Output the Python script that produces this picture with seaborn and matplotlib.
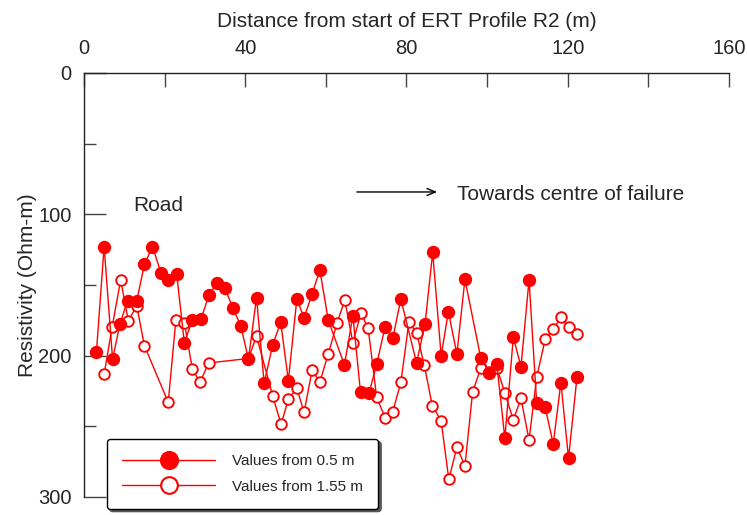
import matplotlib
matplotlib.use("Agg")
import matplotlib.pyplot as plt
from matplotlib.lines import Line2D
from matplotlib.ticker import FixedLocator
import seaborn as sns
import pandas as pd

# ---- data ----
dist_05 = [3.1, 5.0, 7.1, 8.9, 10.8, 13.1, 15.0, 17.0, 19.1, 20.9, 23.0, 24.9, 26.9,
           29.0, 31.0, 32.9, 35.0, 36.9, 38.9, 40.8, 42.8, 44.7, 46.8, 48.8, 50.7,
           52.8, 54.6, 56.6, 58.5, 60.6, 64.6, 66.7, 68.6, 70.7, 72.6, 74.7, 76.6,
           78.6, 82.5, 84.6, 86.5, 88.6, 90.4, 92.5, 94.5, 98.4, 100.5, 102.4, 104.4,
           106.5, 108.4, 110.4, 112.3, 114.4, 116.4, 118.3, 120.2, 122.3]
res_05 = [197.2, 122.9, 202.6, 177.8, 161.1, 161.1, 135.4, 122.9, 141.3, 146.5, 142.4,
          190.8, 174.8, 174.3, 157.1, 148.8, 152.4, 166.1, 179.0, 202.4, 159.0, 219.6,
          192.5, 176.4, 217.7, 160.1, 173.1, 156.4, 139.4, 174.8, 206.6, 171.9, 225.9,
          226.6, 206.1, 179.5, 187.7, 160.1, 205.0, 177.8, 126.9, 200.0, 168.9, 198.8,
          146.0, 201.4, 212.0, 205.9, 258.5, 187.0, 207.8, 146.5, 233.7, 236.6, 262.5,
          219.1, 272.6, 215.0]

dist_155 = [5.0, 7.0, 9.1, 11.0, 13.1, 15.0, 20.9, 22.8, 24.9, 26.9, 28.8, 30.9, 40.8,
            42.8, 46.8, 48.9, 50.7, 52.8, 54.6, 56.6, 58.5, 60.6, 62.8, 64.7, 66.7,
            68.7, 70.5, 72.6, 74.7, 76.6, 78.6, 80.6, 82.5, 84.4, 86.4, 88.6, 90.5,
            92.5, 94.5, 96.4, 98.4, 100.5, 102.5, 104.4, 106.5, 108.4, 110.4, 112.3,
            114.4, 116.4, 118.3, 120.2, 122.3]
res_155 = [213.0, 179.5, 146.5, 175.3, 164.9, 193.0, 233.0, 174.8, 176.7, 209.7, 218.9,
           205.2, 202.0, 186.1, 228.3, 248.6, 230.7, 223.1, 240.1, 210.2, 218.9, 198.8,
           176.7, 160.6, 190.8, 170.0, 180.6, 229.5, 243.9, 239.6, 218.9, 176.4, 183.7,
           206.6, 235.4, 246.2, 287.5, 264.8, 278.0, 225.9, 209.0, 211.3, 209.0, 226.6,
           245.5, 230.2, 259.7, 215.3, 188.4, 181.4, 172.9, 180.0, 184.7]

series_labels = ["Values from 0.5 m", "Values from 1.55 m"]
x_ticks = [0, 40, 80, 120, 160]
y_ticks = [0, 100, 200, 300]

df05 = pd.DataFrame({"dist": dist_05, "res": res_05})
df155 = pd.DataFrame({"dist": dist_155, "res": res_155})

sns.set_style("white")
plt.rcParams["font.family"] = ["Liberation Sans", "DejaVu Sans"]

RED = "#ff0000"
fig, ax = plt.subplots(figsize=(7.47, 5.15), dpi=100)
fig.subplots_adjust(left=0.1124, right=0.9759, top=0.8583, bottom=0.035)

sns.lineplot(data=df155, x="dist", y="res", ax=ax, sort=False, estimator=None,
             color=RED, lw=1.0, marker="o", markersize=7.6, markerfacecolor="white",
             markeredgecolor=RED, markeredgewidth=1.35, zorder=3)
sns.lineplot(data=df05, x="dist", y="res", ax=ax, sort=False, estimator=None,
             color=RED, lw=1.0, marker="o", markersize=9.6, markerfacecolor=RED,
             markeredgecolor=RED, markeredgewidth=0, zorder=4)

ax.set_xlim(0, 160)
ax.set_ylim(300, 0)
ax.xaxis.tick_top()
ax.xaxis.set_label_position("top")
ax.set_xticks(x_ticks)
ax.set_yticks(y_ticks)
ax.xaxis.set_minor_locator(FixedLocator([20, 60, 100, 140]))
ax.yaxis.set_minor_locator(FixedLocator([50, 150, 250]))

for s in ["bottom", "right"]:
    ax.spines[s].set_visible(False)
for s in ["top", "left"]:
    ax.spines[s].set_color("#222222")
    ax.spines[s].set_linewidth(1.0)

ax.tick_params(axis="x", which="both", direction="in", length=10, width=1,
               color="#444444", top=True, bottom=False, labeltop=True,
               labelbottom=False, labelsize=14.5, pad=10.5)
ax.tick_params(axis="y", which="major", direction="in", length=16, width=1,
               color="#444444", left=True, labelsize=14.5, pad=9)
ax.tick_params(axis="y", which="minor", direction="in", length=8.6, width=1,
               color="#444444", left=True)

ax.set_xlabel("Distance from start of ERT Profile R2 (m)", fontsize=15, labelpad=9)
ax.set_ylabel("Resistivity (Ohm-m)", fontsize=15, labelpad=1)

ax.text(12.2, 94, "Road", fontsize=15, va="center", ha="left")
ax.text(92.5, 86.3, "Towards centre of failure", fontsize=15, va="center", ha="left")
ax.annotate("", xy=(87.6, 84.2), xytext=(67.7, 84.2),
            arrowprops=dict(arrowstyle="->,head_length=0.6,head_width=0.25",
                            lw=1.0, color="black", shrinkA=0, shrinkB=0))

handles = [
    Line2D([0], [0], color=RED, lw=1.0, marker="o", markersize=13.8,
           markerfacecolor=RED, markeredgecolor=RED, markeredgewidth=0),
    Line2D([0], [0], color=RED, lw=1.0, marker="o", markersize=12,
           markerfacecolor="white", markeredgecolor=RED, markeredgewidth=1.5),
]
leg = ax.legend(handles, series_labels, loc="lower left",
                bbox_to_anchor=(0.143, 0.012), bbox_transform=fig.transFigure,
                borderaxespad=0, fontsize=11, handlelength=6.1,
                handletextpad=1.1, labelspacing=0.75, borderpad=1.0,
                frameon=True, fancybox=True, shadow={"color": "#555555", "alpha": 1},
                framealpha=1)
leg.get_frame().set_edgecolor("black")
leg.get_frame().set_linewidth(1.0)
leg.set_zorder(10)

fig.savefig("out.png", dpi=100)
